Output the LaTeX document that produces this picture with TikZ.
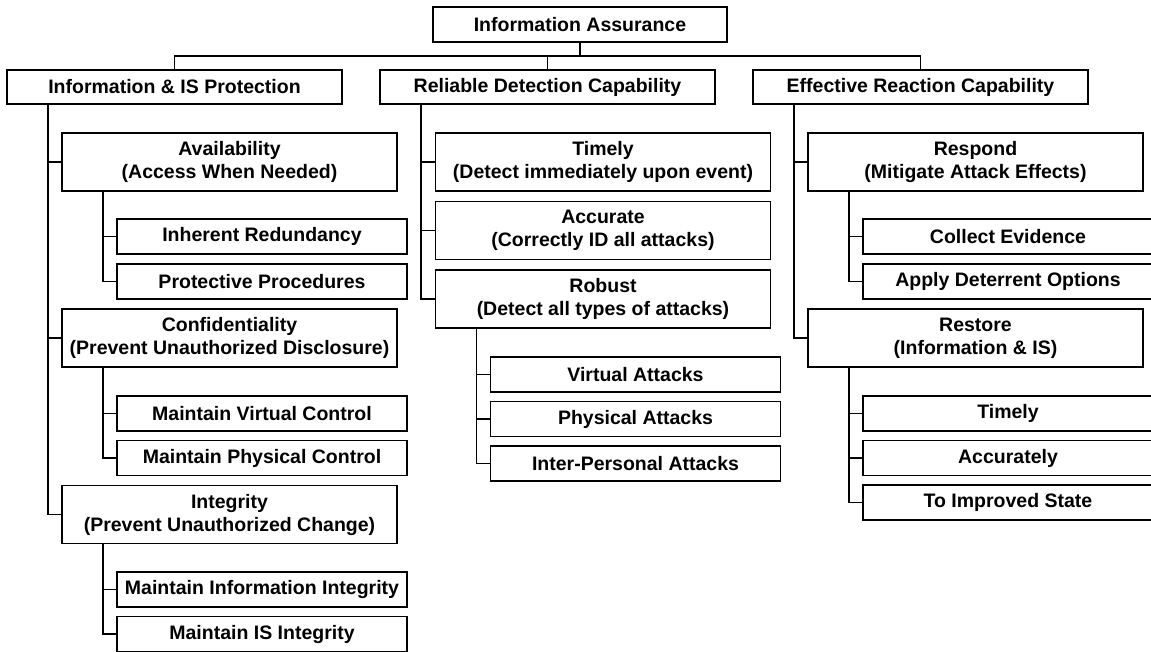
\documentclass[tikz,border=0pt]{standalone}
\usepackage{fontspec}
\setmainfont{Liberation Sans}
\begin{document}
\begin{tikzpicture}[x=1pt, y=-1pt, line width=1.2pt, every node/.style={font=\bfseries\fontsize{19.5}{23}\selectfont}]
        \tikzstyle{topbox} = [draw, rectangle, minimum width=294pt, minimum height=35pt, inner sep=1pt]
        \tikzstyle{mainbox} = [draw, rectangle, minimum width=335pt, minimum height=34pt, inner sep=1pt]
        \tikzstyle{subbox} = [draw, rectangle, minimum width=335pt, minimum height=58pt, align=center, inner sep=1pt]
        \tikzstyle{leafbox} = [draw, rectangle, minimum width=290pt, minimum height=35pt, inner sep=1pt]
        \useasboundingbox (0,0) rectangle (1151,652);
        % root and first level
        \node[topbox] (IA) at (580, 24.5) {Information Assurance};
        \node[mainbox] (IP) at (174.5, 87) {Information \& IS Protection};
        \node[mainbox] (RD) at (547.5, 87) {Reliable Detection Capability};
        \node[mainbox] (ER) at (920.5, 87) {Effective Reaction Capability};
        \coordinate (bus) at (580, 56);
        % protection
        \node[subbox] (AV) at (229.5, 162) {Availability\\(Access When Needed)};
        \node[leafbox] (IR) at (262, 236.5) {Inherent Redundancy};
        \node[leafbox] (PP) at (262, 281.5) {Protective Procedures};
        \node[subbox] (CF) at (229.5, 338) {Confidentiality\\(Prevent Unauthorized Disclosure)};
        \node[leafbox] (VC) at (262, 413.5) {Maintain Virtual Control};
        \node[leafbox] (PC) at (262, 458) {Maintain Physical Control};
        \node[subbox] (IG) at (229.5, 514.5) {Integrity\\(Prevent Unauthorized Change)};
        \node[leafbox] (II) at (262, 589.5) {Maintain Information Integrity};
        \node[leafbox] (IS) at (262, 634) {Maintain IS Integrity};
        % detection
        \node[subbox] (TM) at (603, 162) {Timely\\(Detect immediately upon event)};
        \node[subbox] (AC) at (603, 230.5) {Accurate\\(Correctly ID all attacks)};
        \node[subbox] (RB) at (603, 299) {Robust\\(Detect all types of attacks)};
        \node[leafbox] (VA) at (635.5, 374.5) {Virtual Attacks};
        \node[leafbox] (PA) at (635.5, 419) {Physical Attacks};
        \node[leafbox] (PE) at (635.5, 463.5) {Inter-Personal Attacks};
        % reaction
        \node[subbox] (RS) at (975.5, 162) {Respond\\(Mitigate Attack Effects)};
        \node[leafbox] (CE) at (1008, 236.5) {Collect Evidence};
        \node[leafbox] (AD) at (1008, 281.5) {Apply Deterrent Options};
        \node[subbox] (RT) at (975.5, 338) {Restore\\(Information \& IS)};
        \node[leafbox] (TI) at (1008, 413.5) {Timely};
        \node[leafbox] (AY) at (1008, 458) {Accurately};
        \node[leafbox] (TS) at (1008, 502.5) {To Improved State};
        % connectors
        \draw (IA.south) -- (bus);
        \draw (IP.north) |- (bus) -| (ER.north);
        \draw (RD.north) -- (RD.north |- bus);
        \foreach \p/\c in {IP/AV, IP/CF, IP/IG, AV/IR, AV/PP, CF/VC, CF/PC, IG/II, IG/IS,
                           RD/TM, RD/AC, RD/RB, RB/VA, RB/PA, RB/PE,
                           ER/RS, ER/RT, RS/CE, RS/AD, RT/TI, RT/AY, RT/TS}
            \draw ([xshift=41.5pt]\p.south west) |- (\c.west);
      \end{tikzpicture}
\end{document}
